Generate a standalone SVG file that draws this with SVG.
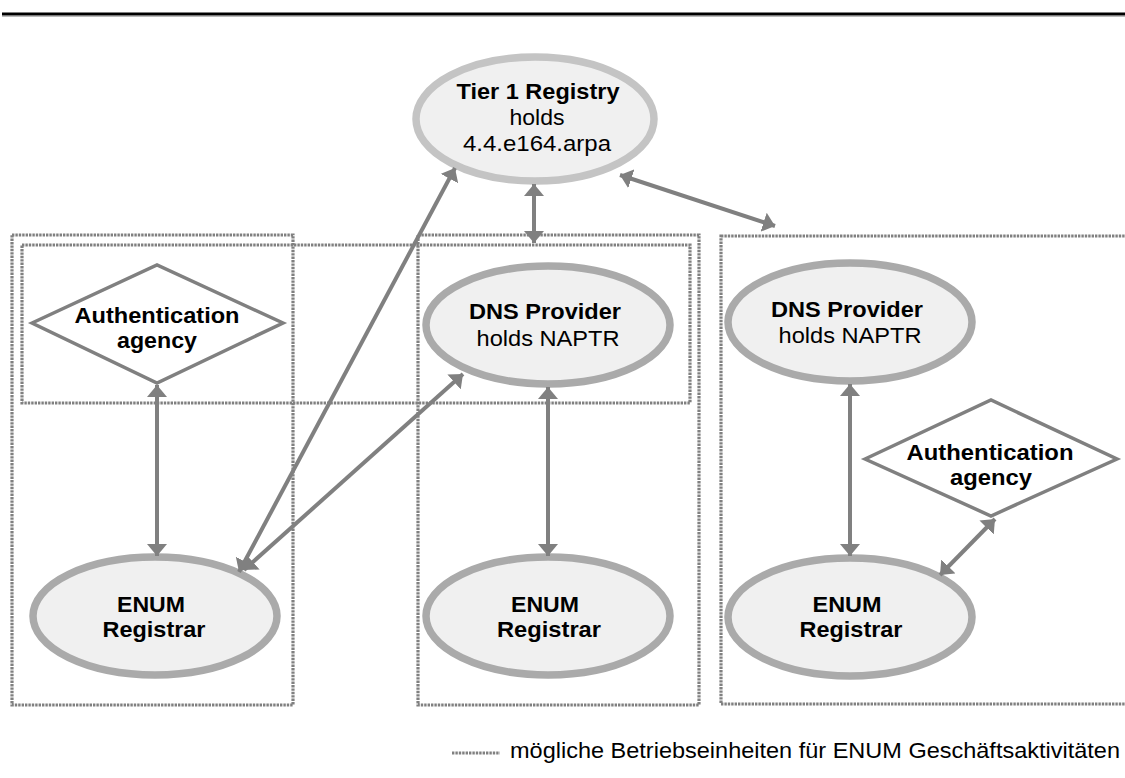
<svg xmlns="http://www.w3.org/2000/svg" width="1125" height="778" viewBox="0 0 1125 778">
<style>
.bg{fill:#ffffff}
.box{fill:none;stroke:#808080;stroke-width:3.2;stroke-dasharray:2.4 1}
.ell{fill:#f0f0f0;stroke:#aaaaaa;stroke-width:7.5}
.ell1{fill:#f0f0f0;stroke:#c4c4c4;stroke-width:7.5}
.dia{fill:#ffffff;stroke:#808080;stroke-width:3.5;stroke-linejoin:miter}
.t{font-family:"Liberation Sans",Arial,sans-serif;font-size:21.5px;fill:#000;text-anchor:middle}
.b{font-weight:bold}
.con{stroke:#808080;stroke-width:4;fill:none;marker-start:url(#ah);marker-end:url(#ah)}
</style>
<defs>
<marker id="ah" markerUnits="userSpaceOnUse" markerWidth="13" markerHeight="20" refX="12" refY="10" orient="auto-start-reverse" viewBox="0 0 13 20">
<path d="M0,0 L12,10 L0,20 z" fill="#808080"/>
</marker>
</defs>
<rect class="bg" x="0" y="0" width="1125" height="778"/>
<line x1="2" y1="14" x2="1125" y2="14" stroke="#000" stroke-width="3"/>
<line x1="2" y1="16" x2="1125" y2="16" stroke="#777" stroke-width="1"/>

<g id="boxes">
<rect class="box" x="12" y="235" width="281" height="470"/>
<rect class="box" x="22" y="245" width="668" height="158"/>
<rect class="box" x="418" y="235" width="281" height="470"/>
<rect class="box" x="721" y="236" width="420" height="468"/>
</g>

<g id="tier1">
<ellipse class="ell1" cx="535" cy="119" rx="119" ry="62"/>
<text class="t b" x="538" y="99" textLength="163" lengthAdjust="spacingAndGlyphs">Tier 1 Registry</text>
<text class="t" x="537" y="125" textLength="55" lengthAdjust="spacingAndGlyphs">holds</text>
<text class="t" x="537" y="151" textLength="148" lengthAdjust="spacingAndGlyphs">4.4.e164.arpa</text>
</g>

<g id="auth-left">
<polygon class="dia" points="32,323 157,265 283,323 157,383"/>
<text class="t b" x="157" y="323" textLength="165" lengthAdjust="spacingAndGlyphs">Authentication</text>
<text class="t b" x="157" y="348" textLength="80" lengthAdjust="spacingAndGlyphs">agency</text>
</g>

<g id="dns-mid">
<ellipse class="ell" cx="548" cy="325" rx="122" ry="59"/>
<text class="t b" x="545" y="319" textLength="152" lengthAdjust="spacingAndGlyphs">DNS Provider</text>
<text class="t" x="548" y="346" textLength="143" lengthAdjust="spacingAndGlyphs">holds NAPTR</text>
</g>

<g id="dns-right">
<ellipse class="ell" cx="850" cy="322" rx="122" ry="59"/>
<text class="t b" x="847" y="317" textLength="152" lengthAdjust="spacingAndGlyphs">DNS Provider</text>
<text class="t" x="850" y="343" textLength="143" lengthAdjust="spacingAndGlyphs">holds NAPTR</text>
</g>

<g id="auth-right">
<polygon class="dia" points="865,459 991,400 1117,459 991,516"/>
<text class="t b" x="990" y="460" textLength="167" lengthAdjust="spacingAndGlyphs">Authentication</text>
<text class="t b" x="991" y="485" textLength="82" lengthAdjust="spacingAndGlyphs">agency</text>
</g>

<g id="enum-left">
<ellipse class="ell" cx="155" cy="616" rx="122" ry="59"/>
<text class="t b" x="151" y="612" textLength="68" lengthAdjust="spacingAndGlyphs">ENUM</text>
<text class="t b" x="154" y="637" textLength="103" lengthAdjust="spacingAndGlyphs">Registrar</text>
</g>

<g id="enum-mid">
<ellipse class="ell" cx="548" cy="616" rx="122" ry="59"/>
<text class="t b" x="545" y="612" textLength="68" lengthAdjust="spacingAndGlyphs">ENUM</text>
<text class="t b" x="549" y="637" textLength="104" lengthAdjust="spacingAndGlyphs">Registrar</text>
</g>

<g id="enum-right">
<ellipse class="ell" cx="850" cy="617" rx="122" ry="59"/>
<text class="t b" x="847" y="612" textLength="69" lengthAdjust="spacingAndGlyphs">ENUM</text>
<text class="t b" x="851" y="637" textLength="103" lengthAdjust="spacingAndGlyphs">Registrar</text>
</g>

<g id="connectors">
<line class="con" x1="534" y1="184" x2="534" y2="243"/>
<line class="con" x1="455" y1="168" x2="239" y2="572"/>
<line class="con" x1="463" y1="374" x2="244" y2="570"/>
<line class="con" x1="620" y1="175" x2="775" y2="226"/>
<line class="con" x1="157" y1="385" x2="157" y2="556"/>
<line class="con" x1="548" y1="387" x2="548" y2="556"/>
<line class="con" x1="850" y1="384" x2="850" y2="556"/>
<line class="con" x1="995" y1="519" x2="940" y2="575"/>
</g>

<g id="legend">
<line class="box" x1="452" y1="753" x2="500" y2="753"/>
<text class="t" style="text-anchor:start" x="510" y="758" textLength="610" lengthAdjust="spacingAndGlyphs">mögliche Betriebseinheiten für ENUM Geschäftsaktivitäten</text>
</g>
</svg>
